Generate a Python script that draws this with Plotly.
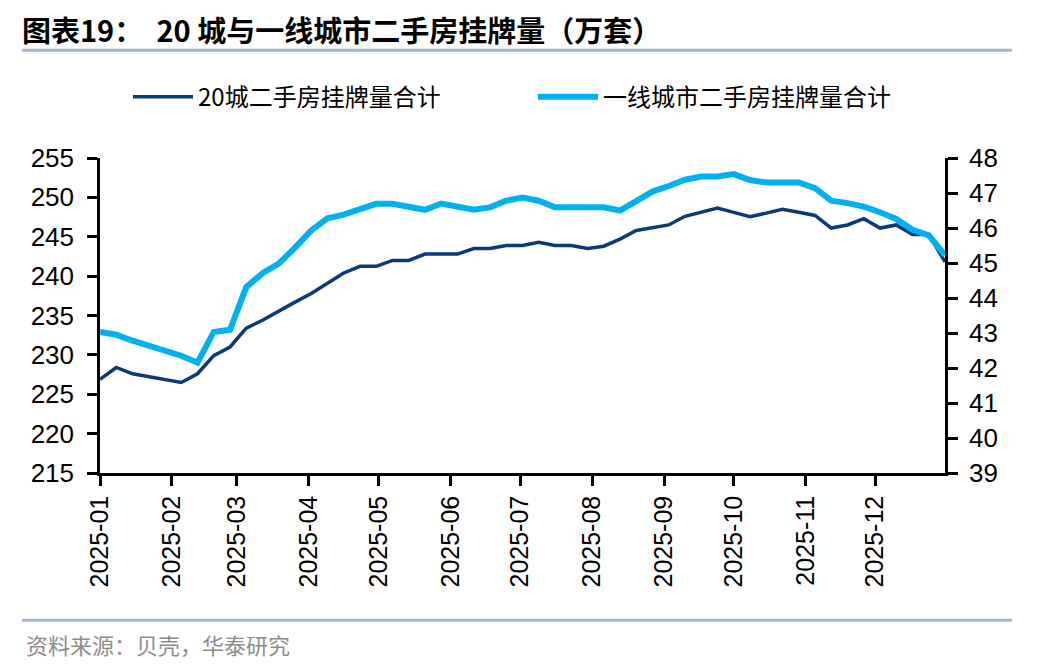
import pandas as pd
import plotly.graph_objects as go

# ---- data (weekly) ----
dates = pd.date_range("2025-01-01", periods=53, freq="7D")

city20_total = [226.9, 228.4, 227.6, 227.2, 226.9, 226.5, 227.6, 229.9, 231.0, 233.4,
                234.4, 235.6, 236.7, 237.8, 239.1, 240.4, 241.25, 241.25, 242.0, 242.0,
                242.8, 242.8, 242.8, 243.5, 243.5, 243.9, 243.9, 244.3, 243.9, 243.9,
                243.5, 243.8, 244.7, 245.8, 246.1, 246.5, 247.6, 248.1, 248.65, 248.1,
                247.55, 248.0, 248.5, 248.1, 247.7, 246.1, 246.5, 247.3, 246.1, 246.5,
                245.3, 245.3, 241.8]

tier1_total = [43.03, 42.95, 42.78, 42.63, 42.49, 42.35, 42.15, 43.03, 43.09, 44.31,
               44.71, 44.98, 45.44, 45.93, 46.28, 46.38, 46.54, 46.69, 46.69, 46.6,
               46.52, 46.7, 46.6, 46.52, 46.59, 46.78, 46.87, 46.78, 46.59, 46.59,
               46.59, 46.59, 46.5, 46.78, 47.04, 47.2, 47.38, 47.47, 47.47, 47.54,
               47.37, 47.3, 47.3, 47.3, 47.14, 46.78, 46.71, 46.61, 46.45, 46.26,
               45.95, 45.79, 45.22]

series_names = ["20城二手房挂牌量合计", "一线城市二手房挂牌量合计"]
title_text = "图表19：  20 城与一线城市二手房挂牌量（万套）"
source_text = "资料来源：贝壳，华泰研究"

left_ticks = [215, 220, 225, 230, 235, 240, 245, 250, 255]
right_ticks = [39, 40, 41, 42, 43, 44, 45, 46, 47, 48]

DARK = "#0B3A78"
LIGHT = "#00B0F0"
RULE = "#A3B6CC"
NUM_FONT = "Liberation Sans, Arial, Noto Sans CJK SC"
CJK_FONT = "Noto Sans CJK SC, Liberation Sans"

# the page body adds an 8px offset; work in screen pixels and subtract it
OFF = 8
W, H = 1048 - OFF, 672 - OFF
L, R, T, B = 100 - OFF, 945 - OFF, 158 - OFF, 473.5 - OFF
PW, PH = R - L, B - T


def px(xs):
    return (xs - OFF - L) / PW


def py(ys):
    return (B - (ys - OFF)) / PH


fig = go.Figure()
fig.add_trace(go.Scatter(x=dates, y=city20_total, name=series_names[0], mode="lines",
                         line=dict(color=DARK, width=3.5), yaxis="y"))
fig.add_trace(go.Scatter(x=dates, y=tier1_total, name=series_names[1], mode="lines",
                         line=dict(color=LIGHT, width=6), yaxis="y2"))

axis_common = dict(showgrid=False, zeroline=False, showline=True, linecolor="black",
                   linewidth=2.5, ticks="outside", ticklen=10, tickwidth=2.5,
                   tickcolor="black", tickfont=dict(family=NUM_FONT, size=26, color="black"))

fig.update_layout(
    width=W, height=H,
    margin=dict(l=L, r=W - R, t=T, b=H - B, autoexpand=False),
    paper_bgcolor="white", plot_bgcolor="white",
    showlegend=True,
    legend=dict(orientation="h", x=px(128), xanchor="left", y=py(97), yanchor="middle",
                font=dict(family=CJK_FONT, size=24, color="black"),
                entrywidth=330, itemwidth=60, traceorder="normal",
                bgcolor="rgba(0,0,0,0)"),
    xaxis=dict(type="date", range=["2025-01-01", "2025-12-31"], dtick="M1",
               tick0="2025-01-01", tickformat="%Y-%m", tickangle=-90,
               **{**axis_common, "tickfont": dict(family=NUM_FONT, size=25, color="black")}),
    yaxis=dict(range=[215, 255], tickvals=left_ticks, ticklabelstandoff=8, **axis_common),
    yaxis2=dict(range=[39, 48], tickvals=right_ticks, overlaying="y", side="right",
                ticklabelstandoff=6, **axis_common),
    shapes=[
        dict(type="line", xref="paper", yref="paper", x0=px(22), x1=px(1012),
             y0=py(50), y1=py(50), line=dict(color=RULE, width=3)),
        dict(type="line", xref="paper", yref="paper", x0=px(22), x1=px(1012),
             y0=py(621), y1=py(621), line=dict(color=RULE, width=3)),
    ],
    annotations=[
        dict(text="<b>" + title_text + "</b>", xref="paper", yref="paper", x=px(20),
             y=py(29), xanchor="left", yanchor="middle", showarrow=False,
             font=dict(family=CJK_FONT, size=29, color="black")),
        dict(text=source_text, xref="paper", yref="paper", x=px(24),
             y=py(645), xanchor="left", yanchor="middle", showarrow=False,
             font=dict(family=CJK_FONT, size=22, color="#8C8C8C")),
    ],
)

fig.write_html("out.html")
